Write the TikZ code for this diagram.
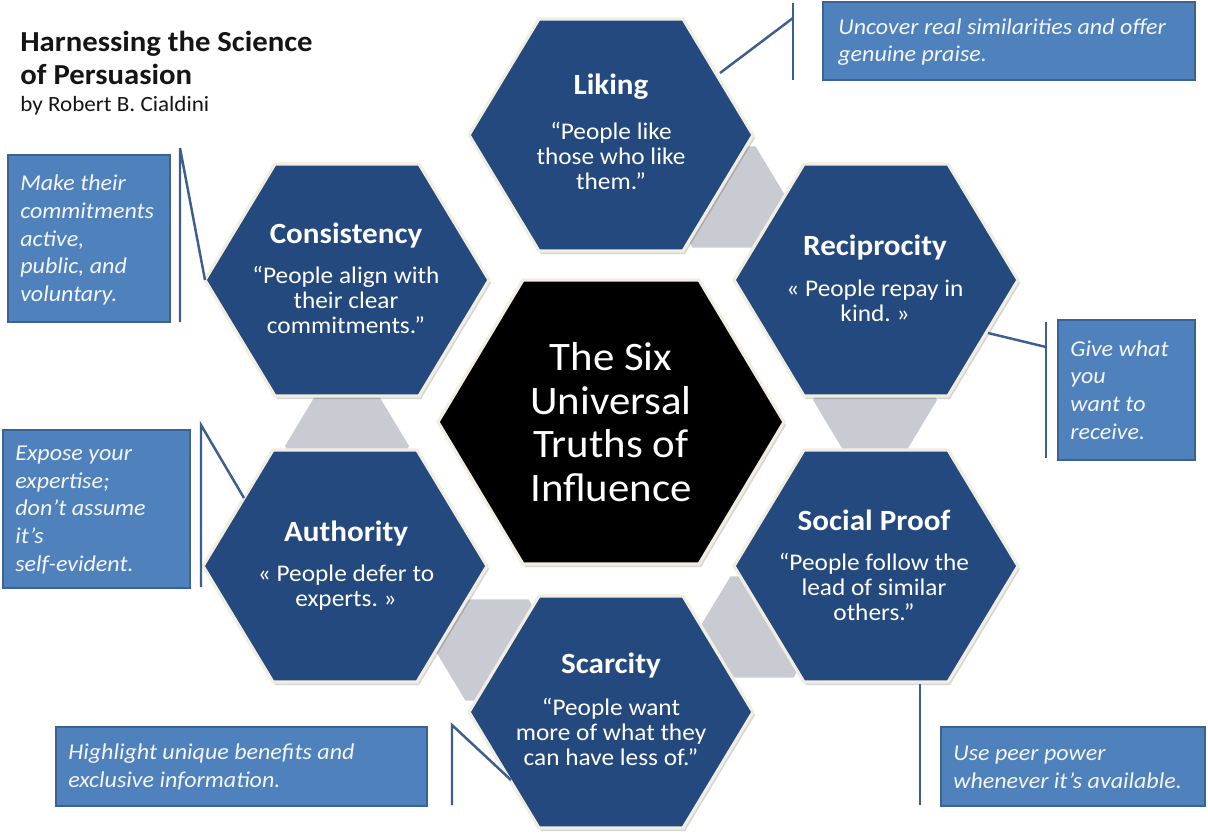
\documentclass[tikz,border=0pt]{standalone}
\usepackage{fontspec}
\setmainfont{Carlito}[FakeStretch=1.06]
\definecolor{hexblue}{HTML}{24497F}
\definecolor{hexrim}{HTML}{F1EEE1}
\definecolor{linkgray}{HTML}{C9CBD2}
\definecolor{callblue}{HTML}{4F81BD}
\definecolor{callrim}{HTML}{3A6295}
\definecolor{calltxt}{HTML}{F4F6FA}
\definecolor{linkline}{HTML}{3C5F8D}
\definecolor{titleink}{HTML}{151515}
\tikzset{
  hexcell/.style={fill=hexblue, draw=hexrim, line width=1.8pt, line join=miter},
  hexcore/.style={fill=black, draw=hexrim, line width=1.8pt, line join=miter},
  hexshadow/.style={fill=black, opacity=0.16},
  linkhex/.style={fill=linkgray},
  cellhead/.style={text=white, inner sep=0pt, font=\fontsize{16.7}{18}\selectfont\bfseries},
  cellquote/.style={text=white, inner sep=0pt, align=center, font=\fontsize{13.6}{14.2}\selectfont},
  coretext/.style={text=white, inner sep=0pt, align=center, font=\fontsize{23}{24.9}\selectfont},
  callbox/.style={fill=callblue, draw=callrim, line width=0.8pt},
  calltext/.style={text=calltxt, inner sep=0pt, anchor=west, align=left, font=\fontsize{12.9}{15.8}\selectfont\itshape},
  bracket/.style={draw=linkline, line width=1.4pt},
  headtitle/.style={text=titleink, inner sep=0pt, anchor=west, align=left, font=\fontsize{16.5}{18.7}\selectfont\bfseries},
  byline/.style={text=titleink, inner sep=0pt, anchor=west, font=\fontsize{12.4}{14}\selectfont},
}
% style, x, y, half-width, half-top, half-height
\newcommand{\HexShape}[6]{%
  \path[#1] (#2-#4,#3) -- (#2-#5,#3-#6) -- (#2+#5,#3-#6) -- (#2+#4,#3) -- (#2+#5,#3+#6) -- (#2-#5,#3+#6) -- cycle;}
\newcommand{\OuterHex}[2]{%
  \HexShape{hexshadow}{#1+2}{#2+3}{142}{72}{116}%
  \HexShape{hexcell}{#1}{#2}{142}{72}{116}}
\begin{document}
\frenchspacing
\begin{tikzpicture}[x=0.02cm, y=-0.02cm]
\path[fill=white] (0,0) rectangle (1208,838);
\useasboundingbox (0,0) rectangle (1208,838);

% grey link hexagons
\HexShape{linkhex}{724}{197}{62}{31.5}{50.7}
\HexShape{linkhex}{875}{400}{62}{31.5}{50.7}
\HexShape{linkhex}{762}{627}{62}{31.5}{50.7}
\HexShape{linkhex}{497}{650}{62}{31.5}{50.7}
\HexShape{linkhex}{347}{446}{62}{31.5}{50.7}

% outer hexagons
\OuterHex{611}{135}
\OuterHex{876}{280}
\OuterHex{876}{566}
\OuterHex{611}{712}
\OuterHex{345}{566}
\OuterHex{347}{280}

% central hexagon
\HexShape{hexshadow}{613}{425}{173}{88}{142}
\HexShape{hexcore}{611}{422}{173}{88}{142}
\node[coretext] (core) at (611,422) {The Six\\Universal\\Truths of\\Influence};

% hexagon texts
\node[cellhead] (liking) at (611,87) {Liking};
\node[cellquote] (likingq) at (611,156) {“People like\\those who like\\them.”};
\node[cellhead] (consistency) at (346,236) {Consistency};
\node[cellquote] (consistencyq) at (346,300) {“People align with\\their clear\\commitments.”};
\node[cellhead] (reciprocity) at (875,248) {Reciprocity};
\node[cellquote] (reciprocityq) at (875,301) {« People repay in\\kind. »};
\node[cellhead] (social) at (874,520) {Social Proof};
\node[cellquote] (socialq) at (874,587) {“People follow the\\lead of similar\\others.”};
\node[cellhead] (authority) at (346,534) {Authority};
\node[cellquote] (authorityq) at (346,588) {« People defer to\\experts. »};
\node[cellhead] (scarcity) at (611,666) {Scarcity};
\node[cellquote] (scarcityq) at (611,732) {“People want\\more of what they\\can have less of.”};

% title
\node[headtitle] (title) at (20,58) {Harnessing the Science\\of Persuasion};
\node[byline] (author) at (20,106) {by Robert B. Cialdini};

% callout boxes
\path[callbox] (823,2) rectangle (1195,80);
\node[calltext] (tipliking) at (838,42) {Uncover real similarities and offer\\genuine praise.};
\path[callbox] (8,155) rectangle (170,322);
\node[calltext] (tipconsistency) at (20,240) {Make their\\commitments\\active,\\public, and\\voluntary.};
\path[callbox] (1058,320) rectangle (1195,460);
\node[calltext] (tipreciprocity) at (1070,390) {Give what\\you\\want to\\receive.};
\path[callbox] (3,430) rectangle (190,588);
\node[calltext] (tipauthority) at (15,510) {Expose your\\expertise;\\don’t assume\\it’s\\self-evident.};
\path[callbox] (56,727) rectangle (427,806);
\node[calltext] (tipscarcity) at (68,767) {Highlight unique benefits and\\exclusive information.};
\path[callbox] (941,727) rectangle (1205,806);
\node[calltext] (tipsocial) at (953,767) {Use peer power\\whenever it’s available.};

% bracket coordinates
\coordinate (lkE) at (720,73);   \coordinate (lkJ) at (793,18);
\coordinate (lkT) at (793,3);    \coordinate (lkB) at (793,80);
\coordinate (csE) at (205,280);  \coordinate (csT) at (180,148);
\coordinate (csB) at (180,322);
\coordinate (rcE) at (988,333);  \coordinate (rcJ) at (1046,347);
\coordinate (rcT) at (1046,322); \coordinate (rcB) at (1046,458);
\coordinate (auE) at (244,498);  \coordinate (auT) at (201,425);
\coordinate (auB) at (201,587);
\coordinate (scE) at (511,780);  \coordinate (scT) at (452,725);
\coordinate (scB) at (452,805);
\coordinate (spE) at (920,684);  \coordinate (spB) at (920,805);

% bracket connectors
\draw[bracket] (lkE) -- (lkJ);
\draw[bracket] (lkT) -- (lkB);
\draw[bracket] (csE) -- (csT) -- (csB);
\draw[bracket] (rcE) -- (rcJ);
\draw[bracket] (rcT) -- (rcB);
\draw[bracket] (auE) -- (auT) -- (auB);
\draw[bracket] (scE) -- (scT) -- (scB);
\draw[bracket] (spE) -- (spB);
\end{tikzpicture}
\end{document}
